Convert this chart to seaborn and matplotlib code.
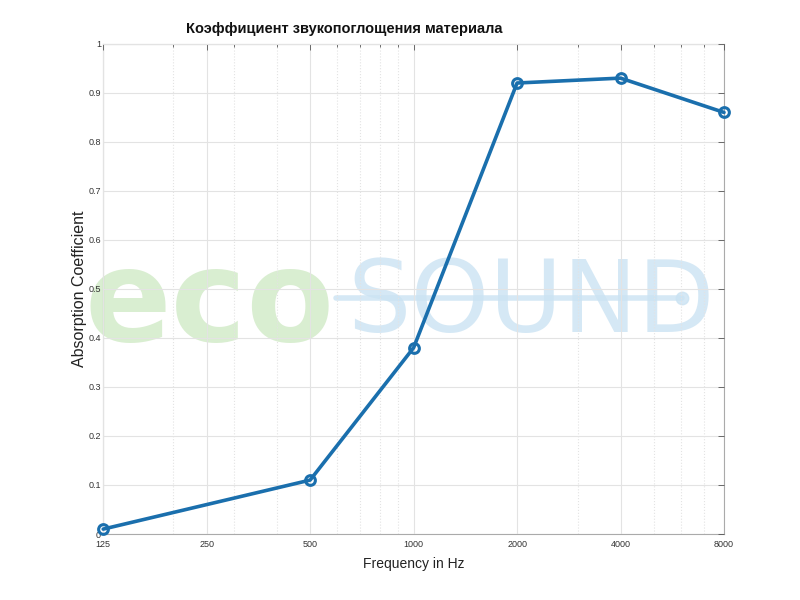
import matplotlib
matplotlib.use('Agg')
import matplotlib.pyplot as plt
import matplotlib.ticker as mticker
import pandas as pd
import seaborn as sns

# Data
freqs = [125, 500, 1000, 2000, 4000, 8000]
alpha = [0.01, 0.11, 0.38, 0.92, 0.93, 0.86]
xticks = [125, 250, 500, 1000, 2000, 4000, 8000]
yticks = [0, 0.1, 0.2, 0.3, 0.4, 0.5, 0.6, 0.7, 0.8, 0.9, 1]

df = pd.DataFrame({'Frequency': freqs, 'Alpha': alpha})

sns.set_style('white')
plt.rcParams['font.family'] = ['Liberation Sans', 'DejaVu Sans']

fig = plt.figure(figsize=(8, 6), dpi=100)
ax = fig.add_axes([0.129, 0.11, 0.776, 0.817])

line_color = '#1a6fad'
sns.lineplot(data=df, x='Frequency', y='Alpha', ax=ax, color=line_color,
             linewidth=2.6, marker='o', markersize=7, markerfacecolor='none',
             markeredgecolor=line_color, markeredgewidth=2.2, zorder=5)
for ln in ax.lines:
    ln.set_clip_on(False)

ax.set_xscale('log')
ax.set_xlim(125, 8000)
ax.set_ylim(0, 1)
ax.xaxis.set_major_locator(mticker.FixedLocator(xticks))
ax.xaxis.set_major_formatter(mticker.FixedFormatter([str(t) for t in xticks]))
ax.xaxis.set_minor_locator(mticker.LogLocator(base=10, subs=range(2, 10)))
ax.xaxis.set_minor_formatter(mticker.NullFormatter())
ax.set_yticks(yticks)
ax.set_yticklabels([f'{t:g}' for t in yticks])

# grid and ticks drawn above the watermark, below the line
ax.set_axisbelow(False)
ax.grid(True, which='major', color='#e3e3e3', linewidth=0.8, linestyle='-', zorder=2)
ax.grid(True, which='minor', axis='x', color='#e3e3e3', linewidth=0.8, linestyle=':', zorder=2)

ax.tick_params(axis='both', which='both', direction='in', top=True, right=True,
               labelsize=6.5, colors='#555555', labelcolor='#333333')
ax.tick_params(which='major', length=4, width=0.6, pad=4)
ax.tick_params(axis='y', which='major', pad=1.5)
for s in ax.spines.values():
    s.set_color('#aaaaaa')
    s.set_linewidth(0.8)

ax.set_xlabel('Frequency in Hz', fontsize=10, color='#222222', labelpad=6)
ax.set_ylabel('Absorption Coefficient', fontsize=11.5, color='#222222', labelpad=1)

fig.text(0.43, 0.952, 'Коэффициент звукопоглощения материала', ha='center', va='center',
         fontsize=10.5, fontweight='bold', color='#111111')

# watermark (inside the axes so the grid and line stay on top)
wm_green = '#d3ebc9'
wm_blue = '#cbe3f3'
ax.text(0.262, 0.432, 'eco', ha='center', va='baseline', fontsize=92, fontweight='bold',
        family='DejaVu Sans', color=wm_green, alpha=0.85, zorder=1,
        transform=fig.transFigure, clip_on=False)
ax.text(0.664, 0.447, 'SOUND', ha='center', va='baseline', fontsize=72,
        family='DejaVu Sans', color=wm_blue, alpha=0.8, zorder=1,
        transform=fig.transFigure, clip_on=False)
ax.add_line(plt.Line2D([0.42, 0.853], [0.503, 0.503], transform=fig.transFigure,
                       color=wm_blue, alpha=0.8, linewidth=4, zorder=1))
ax.add_line(plt.Line2D([0.853], [0.503], transform=fig.transFigure, marker='o',
                       markersize=9, color=wm_blue, alpha=0.8, zorder=1))

fig.savefig('out.png', dpi=100, facecolor='white')
